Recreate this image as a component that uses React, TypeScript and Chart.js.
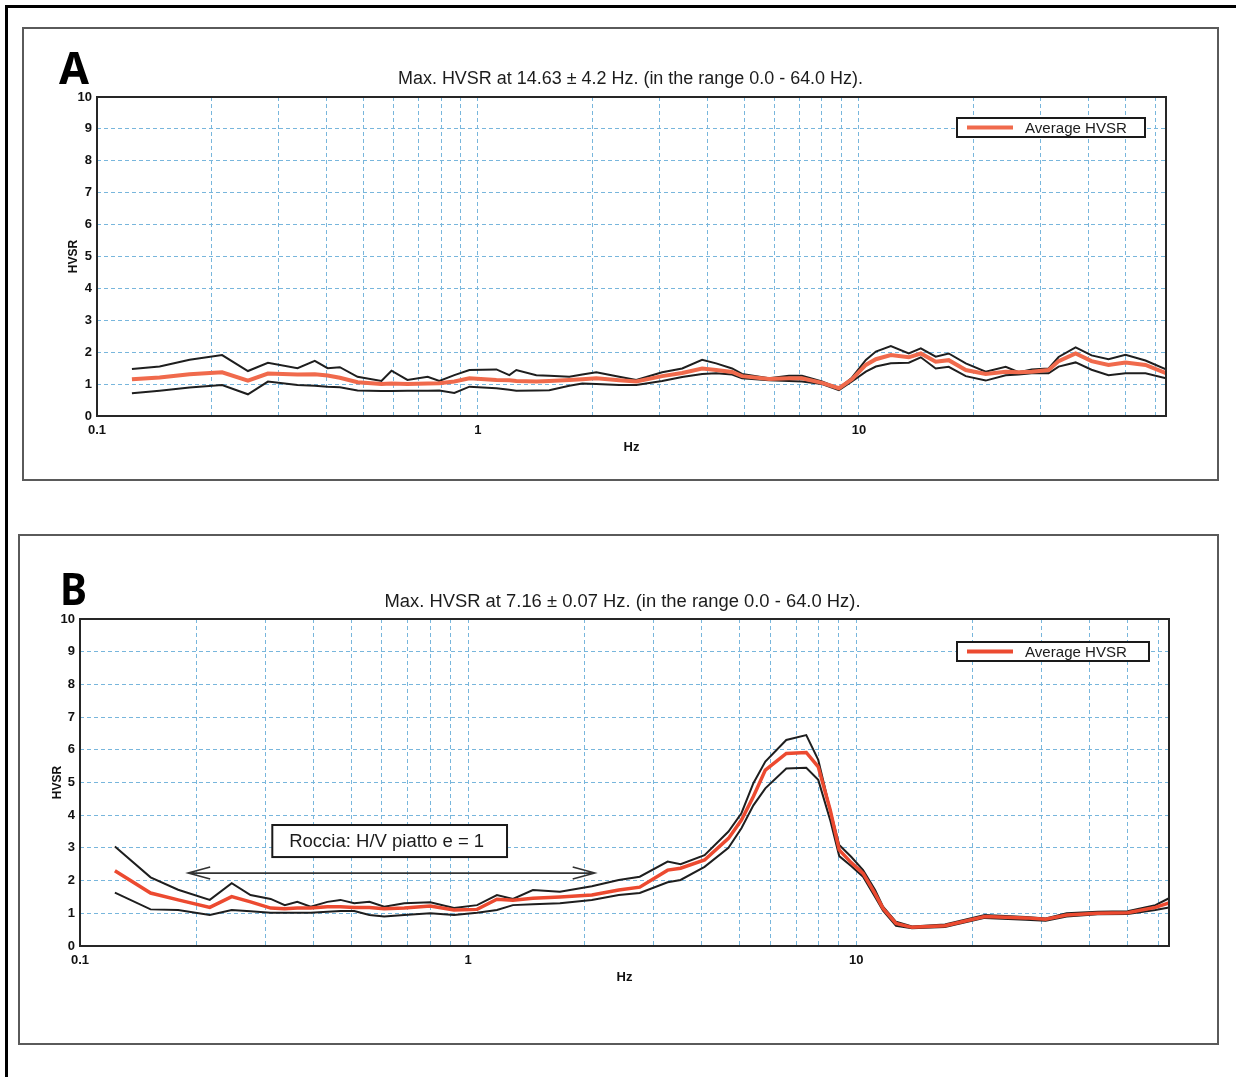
import React, { useEffect, useRef } from "react";
import { Chart, registerables } from "chart.js";

Chart.register(...registerables);

// ---------------- Panel A data ----------------
const FREQ_A = [
  0.1235, 0.146, 0.175, 0.213, 0.249, 0.281, 0.336, 0.373, 0.403, 0.434,
  0.483, 0.558, 0.593, 0.653, 0.738, 0.792, 0.867, 0.95, 1.118, 1.209,
  1.261, 1.423, 1.539, 1.737, 1.879, 2.045, 2.349, 2.604, 3.045, 3.436,
  3.877, 4.22, 4.647, 4.935, 5.808, 6.553, 7.089, 8.0, 8.862, 9.587,
  10.43, 11.08, 12.13, 13.52, 14.54, 15.91, 17.21, 19.08, 21.52, 24.29,
  26.27, 28.41, 31.48, 33.44, 37.06, 40.81, 45.21, 50.1, 56.53, 64,
];
const UPPER_A = [
  1.47, 1.55, 1.76, 1.91, 1.41, 1.67, 1.5, 1.73, 1.5, 1.53,
  1.23, 1.1, 1.42, 1.13, 1.23, 1.1, 1.28, 1.44, 1.46, 1.28,
  1.44, 1.28, 1.26, 1.23, 1.3, 1.37, 1.23, 1.13, 1.37, 1.49,
  1.76, 1.65, 1.49, 1.32, 1.18, 1.26, 1.26, 1.08, 0.87, 1.2,
  1.76, 2.02, 2.19, 1.96, 2.12, 1.86, 1.96, 1.65, 1.39, 1.54,
  1.37, 1.46, 1.49, 1.85, 2.15, 1.9, 1.78, 1.92, 1.74, 1.46,
];
const MEAN_A = [
  1.15, 1.21, 1.31, 1.37, 1.11, 1.33, 1.3, 1.31, 1.27, 1.2,
  1.06, 1.0, 1.02, 1.0, 1.02, 1.03, 1.08, 1.18, 1.13, 1.12,
  1.1, 1.08, 1.1, 1.13, 1.15, 1.18, 1.12, 1.08, 1.25, 1.35,
  1.49, 1.44, 1.38, 1.25, 1.16, 1.18, 1.18, 1.04, 0.87, 1.15,
  1.6, 1.78, 1.91, 1.84, 1.96, 1.7, 1.75, 1.44, 1.32, 1.39,
  1.37, 1.39, 1.44, 1.72, 1.96, 1.72, 1.6, 1.68, 1.6, 1.34,
];
const LOWER_A = [
  0.71, 0.79, 0.89, 0.97, 0.68, 1.08, 0.97, 0.95, 0.92, 0.9,
  0.8, 0.78, 0.78, 0.79, 0.79, 0.8, 0.72, 0.92, 0.87, 0.82,
  0.79, 0.8, 0.81, 0.95, 1.02, 1.0, 0.97, 0.97, 1.1, 1.22,
  1.32, 1.34, 1.3, 1.18, 1.12, 1.1, 1.08, 1.0, 0.81, 1.08,
  1.39, 1.55, 1.65, 1.67, 1.84, 1.49, 1.54, 1.25, 1.11, 1.28,
  1.3, 1.34, 1.34, 1.55, 1.68, 1.45, 1.28, 1.34, 1.34, 1.18,
];

// ---------------- Panel B data ----------------
const FREQ_B = [
  0.123, 0.152, 0.179, 0.216, 0.246, 0.275, 0.31, 0.337, 0.363, 0.393,
  0.434, 0.469, 0.509, 0.557, 0.608, 0.685, 0.799, 0.92, 1.055, 1.187,
  1.305, 1.469, 1.725, 2.084, 2.445, 2.769, 3.268, 3.528, 4.068, 4.688,
  5.063, 5.435, 5.834, 6.607, 7.438, 7.986, 8.574, 9.045, 9.708, 10.42,
  11.19, 11.73, 12.67, 13.93, 16.93, 21.46, 27.35, 30.79, 34.87, 41.9,
  50.04, 59.04, 64,
];
const UPPER_B = [
  3.04, 2.1, 1.72, 1.41, 1.92, 1.56, 1.44, 1.25, 1.35, 1.2,
  1.35, 1.41, 1.31, 1.35, 1.2, 1.31, 1.34, 1.16, 1.25, 1.56,
  1.44, 1.71, 1.66, 1.83, 2.02, 2.12, 2.58, 2.5, 2.78, 3.5,
  4.06, 4.98, 5.64, 6.3, 6.45, 5.69, 4.16, 3.09, 2.73, 2.32,
  1.71, 1.2, 0.74, 0.6, 0.66, 0.95, 0.89, 0.84, 1.0, 1.05,
  1.06, 1.25, 1.46,
];
const MEAN_B = [
  2.3, 1.62, 1.41, 1.18, 1.51, 1.35, 1.16, 1.14, 1.16, 1.16,
  1.2, 1.2, 1.18, 1.18, 1.14, 1.16, 1.22, 1.1, 1.12, 1.43,
  1.4, 1.46, 1.5, 1.56, 1.71, 1.8, 2.32, 2.38, 2.63, 3.29,
  3.85, 4.57, 5.38, 5.89, 5.92, 5.48, 4.16, 2.94, 2.55, 2.22,
  1.6, 1.15, 0.69, 0.57, 0.62, 0.9, 0.86, 0.82, 0.95, 1.0,
  1.02, 1.18, 1.32,
];
const LOWER_B = [
  1.63, 1.12, 1.1, 0.95, 1.1, 1.06, 1.02, 1.02, 1.02, 1.02,
  1.05, 1.07, 1.07, 0.95, 0.9, 0.95, 1.0, 0.95, 1.02, 1.1,
  1.25, 1.28, 1.31, 1.41, 1.56, 1.62, 1.95, 2.02, 2.42, 3.0,
  3.6, 4.3, 4.82, 5.43, 5.45, 5.08, 3.85, 2.75, 2.45, 2.12,
  1.5, 1.08, 0.62, 0.54, 0.58, 0.86, 0.8, 0.77, 0.9, 0.97,
  0.98, 1.1, 1.18,
];

// ---------------- Texts / axes ----------------
const TITLE_A = "Max. HVSR at 14.63 \u00b1 4.2 Hz. (in the range 0.0 - 64.0 Hz).";
const TITLE_B = "Max. HVSR at 7.16 \u00b1 0.07 Hz. (in the range 0.0 - 64.0 Hz).";
const LEGEND_LABEL = "Average HVSR";
const Y_TITLE = "HVSR";
const X_TITLE = "Hz";
const X_LABELS = [0.1, 1, 10];
const X_MIN = 0.1;
const X_MAX = 64;
const Y_MIN = 0;
const Y_MAX = 10;
const NOTE_TEXT = "Roccia: H/V piatto e = 1";
const NOTE_BOX = [0.313, 1.26, 2.72, 3.7]; // x0, x1 (Hz), y0, y1 (HVSR)
const NOTE_ARROW = [0.19, 2.12, 2.23]; // x0, x1 (Hz), y

const X_GRID: number[] = [];
for (const d of [0.1, 1, 10]) {
  for (let m = 1; m <= 9; m++) {
    const v = +(m * d).toPrecision(3);
    if (v <= X_MAX) X_GRID.push(v);
  }
}

const NARROW = '"Liberation Sans Narrow", "Liberation Sans", Arial, sans-serif';

function fitText(ctx: any, text: string, x: number, y: number, font: string, width: number, align: string) {
  ctx.save();
  ctx.font = font;
  const w = ctx.measureText(text).width || 1;
  const sx = width / w;
  ctx.translate(x, y);
  ctx.scale(sx, 1);
  ctx.textAlign = align;
  ctx.textBaseline = "alphabetic";
  ctx.fillText(text, 0, 0);
  ctx.restore();
}

const decorPlugin = {
  id: "hvsrDecor",
  afterDraw(chart: any, _args: any, opts: any) {
    const { ctx, chartArea: a, scales } = chart;
    ctx.save();
    // plot frame
    ctx.strokeStyle = "#262626";
    ctx.lineWidth = 2;
    ctx.strokeRect(a.left, a.top, a.right - a.left, a.bottom - a.top);

    // title
    ctx.fillStyle = "#1c1c1c";
    fitText(ctx, opts.title, (a.left + a.right) / 2 + opts.titleShift, a.top - opts.titleGap,
      "18px " + NARROW, opts.titleWidth, "center");

    // panel letter
    ctx.fillStyle = "#000";
    fitText(ctx, opts.letter, opts.letterX, opts.letterY, 'bold 44px "Noto Sans", "Liberation Sans", sans-serif',
      opts.letterWidth, "left");

    // legend box
    const ds = chart.data.datasets[0];
    const lw = opts.legendW;
    const lh = 19;
    const lx = a.right - opts.legendRight - lw;
    const ly = a.top + opts.legendTop;
    ctx.fillStyle = "#fff";
    ctx.fillRect(lx, ly, lw, lh);
    ctx.strokeStyle = "#1a1a1a";
    ctx.lineWidth = 2;
    ctx.strokeRect(lx, ly, lw, lh);
    ctx.strokeStyle = ds.borderColor;
    ctx.lineWidth = 4;
    ctx.beginPath();
    ctx.moveTo(lx + 10, ly + lh / 2);
    ctx.lineTo(lx + 56, ly + lh / 2);
    ctx.stroke();
    ctx.fillStyle = "#1c1c1c";
    fitText(ctx, ds.label, lx + 68, ly + lh / 2 + 5, "15px " + NARROW, 102, "left");

    // annotation
    if (opts.note) {
      const xs = scales.x;
      const ys = scales.y;
      const bx0 = xs.getPixelForValue(NOTE_BOX[0]);
      const bx1 = xs.getPixelForValue(NOTE_BOX[1]);
      const by0 = ys.getPixelForValue(NOTE_BOX[2]);
      const by1 = ys.getPixelForValue(NOTE_BOX[3]);
      ctx.fillStyle = "#fff";
      ctx.fillRect(bx0, by1, bx1 - bx0, by0 - by1);
      ctx.strokeStyle = "#1a1a1a";
      ctx.lineWidth = 2;
      ctx.strokeRect(bx0, by1, bx1 - bx0, by0 - by1);
      ctx.fillStyle = "#1c1c1c";
      fitText(ctx, NOTE_TEXT, (bx0 + bx1) / 2 - 3, (by0 + by1) / 2 + 6, "18px " + NARROW, 195, "center");

      const ax0 = xs.getPixelForValue(NOTE_ARROW[0]);
      const ax1 = xs.getPixelForValue(NOTE_ARROW[1]);
      const ay = ys.getPixelForValue(NOTE_ARROW[2]);
      ctx.strokeStyle = "#333";
      ctx.lineWidth = 1.6;
      ctx.beginPath();
      ctx.moveTo(ax0, ay);
      ctx.lineTo(ax1, ay);
      ctx.moveTo(ax0 + 22, ay - 6);
      ctx.lineTo(ax0, ay);
      ctx.lineTo(ax0 + 22, ay + 6);
      ctx.moveTo(ax1 - 22, ay - 6);
      ctx.lineTo(ax1, ay);
      ctx.lineTo(ax1 - 22, ay + 6);
      ctx.stroke();
    }
    ctx.restore();
  },
};

const GRID_COLOR = "#78b6dc";
const TICK_FONT = { family: '"Liberation Sans", Arial, sans-serif', size: 13, weight: "bold" };

function toPoints(xs: number[], ys: number[]) {
  return xs.map((x, i) => ({ x, y: ys[i] }));
}

function HvsrChart(props: any) {
  const ref = useRef<HTMLCanvasElement>(null);
  const p = props;
  useEffect(() => {
    const cfg: any = {
      type: "line",
      data: {
        datasets: [
          {
            label: LEGEND_LABEL,
            data: toPoints(p.freq, p.mean),
            borderColor: p.meanColor,
            borderWidth: p.meanWidth,
            pointRadius: 0,
            tension: 0,
          },
          {
            label: "upper",
            data: toPoints(p.freq, p.upper),
            borderColor: "#1e1e1e",
            borderWidth: 2,
            pointRadius: 0,
            tension: 0,
          },
          {
            label: "lower",
            data: toPoints(p.freq, p.lower),
            borderColor: "#1e1e1e",
            borderWidth: 2,
            pointRadius: 0,
            tension: 0,
          },
        ],
      },
      options: {
        responsive: false,
        animation: false,
        devicePixelRatio: 1,
        layout: { padding: p.padding },
        plugins: {
          legend: { display: false },
          tooltip: { enabled: false },
          title: { display: false },
          hvsrDecor: p.decor,
        },
        scales: {
          x: {
            type: "logarithmic",
            min: X_MIN,
            max: X_MAX,
            afterBuildTicks: (s: any) => {
              s.ticks = X_GRID.map((v) => ({ value: v }));
            },
            afterFit: (s: any) => {
              s.height = 39;
            },
            ticks: {
              autoSkip: false,
              maxRotation: 0,
              minRotation: 0,
              padding: 7,
              color: "#111",
              font: TICK_FONT,
              callback: (v: number) => (X_LABELS.includes(v) ? String(v) : ""),
            },
            grid: { color: GRID_COLOR, lineWidth: 1, drawTicks: false },
            border: { display: false, dash: [4, 3] },
            title: {
              display: true,
              text: X_TITLE,
              color: "#111",
              padding: 0,
              font: { family: '"Liberation Sans", Arial, sans-serif', size: 13, weight: "bold" },
            },
          },
          y: {
            type: "linear",
            min: Y_MIN,
            max: Y_MAX,
            afterFit: (s: any) => {
              s.width = p.yWidth;
            },
            ticks: {
              stepSize: 1,
              padding: 5,
              color: "#111",
              font: TICK_FONT,
            },
            grid: { color: GRID_COLOR, lineWidth: 1, drawTicks: false },
            border: { display: false, dash: [4, 3] },
            title: {
              display: true,
              text: Y_TITLE,
              color: "#111",
              padding: 0,
              font: { family: '"Liberation Sans", Arial, sans-serif', size: 12, weight: "bold" },
            },
          },
        },
      },
      plugins: [decorPlugin],
    };
    const chart = new Chart(ref.current as HTMLCanvasElement, cfg);
    return () => chart.destroy();
  }, []);
  return (
    <canvas
      ref={ref}
      width={p.w}
      height={p.h}
      style={{ position: "absolute", left: p.left, top: p.top, width: p.w, height: p.h }}
    />
  );
}

export default function App() {
  return (
    <div
      style={{
        position: "absolute",
        left: 0,
        top: 0,
        width: 1236,
        height: 1077,
        background: "#fff",
        overflow: "hidden",
      }}
    >
      {/* outer figure frame (cropped on right/bottom) */}
      <div
        style={{
          position: "absolute",
          left: 5,
          top: 5,
          width: 1300,
          height: 1200,
          borderLeft: "3px solid #000",
          borderTop: "3px solid #000",
        }}
      />
      {/* panel A frame */}
      <div
        style={{
          position: "absolute",
          left: 22,
          top: 27,
          width: 1193,
          height: 450,
          border: "2px solid #5a5a5a",
        }}
      />
      {/* panel B frame */}
      <div
        style={{
          position: "absolute",
          left: 18,
          top: 534,
          width: 1197,
          height: 507,
          border: "2px solid #5a5a5a",
        }}
      />
      <HvsrChart
        left={24}
        top={29}
        w={1191}
        h={448}
        padding={{ left: 42, top: 68, right: 49, bottom: 22 }}
        yWidth={31}
        freq={FREQ_A}
        upper={UPPER_A}
        mean={MEAN_A}
        lower={LOWER_A}
        meanColor="#f06a4c"
        meanWidth={4}
        decor={{
          title: TITLE_A,
          titleWidth: 465,
          titleGap: 13,
          titleShift: -1,
          letter: "A",
          letterX: 35,
          letterY: 55,
          letterWidth: 30,
          legendW: 188,
          legendRight: 21,
          legendTop: 21,
          note: false,
        }}
      />
      <HvsrChart
        left={21}
        top={536}
        w={1194}
        h={505}
        padding={{ left: 29, top: 83, right: 46, bottom: 56 }}
        yWidth={30}
        freq={FREQ_B}
        upper={UPPER_B}
        mean={MEAN_B}
        lower={LOWER_B}
        meanColor="#ec4a30"
        meanWidth={3.5}
        decor={{
          title: TITLE_B,
          titleWidth: 476,
          titleGap: 12,
          titleShift: -2,
          letter: "B",
          letterX: 39,
          letterY: 69,
          letterWidth: 27,
          legendW: 192,
          legendRight: 20,
          legendTop: 23,
          note: true,
        }}
      />
    </div>
  );
}
